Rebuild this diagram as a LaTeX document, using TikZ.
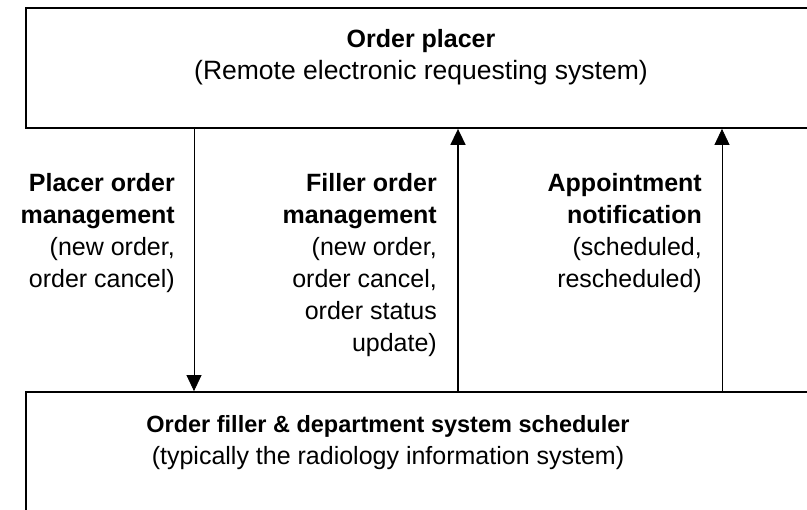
\documentclass[tikz,border=0pt]{standalone}
\usepackage{fontspec}
\setmainfont{Liberation Sans}
\usetikzlibrary{arrows.meta}
\begin{document}
\begin{tikzpicture}[x=1pt,y=-1pt,
  box/.style={draw,line width=1.8pt,rectangle,inner sep=0},
  lbl/.style={align=right,anchor=base east,inner sep=0,font=\fontsize{25}{32}\selectfont},
  ttl/.style={align=center,anchor=base,inner sep=0,font=\fontsize{25}{32}\selectfont},
  flow/.style={-{Triangle[width=15pt,length=16pt]}}]
\useasboundingbox (0,0) rectangle (807,510);
\clip (0,0) rectangle (807,510);
\node[box,minimum width=804pt,minimum height=120pt] (placer) at (428,68) {};
\node[box,minimum width=804pt,minimum height=148pt] (filler) at (428,466) {};
\coordinate (c1) at (194,0);
\coordinate (c2) at (458,0);
\coordinate (c3) at (722,0);
\draw[flow,line width=0.8pt] (placer.south -| c1) -- (filler.north -| c1);
\draw[flow,line width=1.6pt] (filler.north -| c2) -- (placer.south -| c2);
\draw[flow,line width=0.8pt] (filler.north -| c3) -- (placer.south -| c3);
\node[ttl] (t1) at (421,80) {\textbf{Order placer}\\{\fontsize{26.5}{32}\selectfont(Remote electronic requesting system)}};
\node[lbl] (l1) at (175,288) {\textbf{Placer order}\\\textbf{management}\\(new order,\\order cancel)};
\node[lbl] (l2) at (437,352) {\textbf{Filler order}\\\textbf{management}\\(new order,\\order cancel,\\order status\\update)};
\node[lbl] (l3) at (702,288) {\textbf{Appointment}\\\textbf{notification}\\(scheduled,\\rescheduled)};
\node[ttl] (b1) at (388,465) {{\fontsize{23.5}{32}\selectfont\textbf{Order filler \& department system scheduler}}\\(typically the radiology information system)};
\end{tikzpicture}
\end{document}
